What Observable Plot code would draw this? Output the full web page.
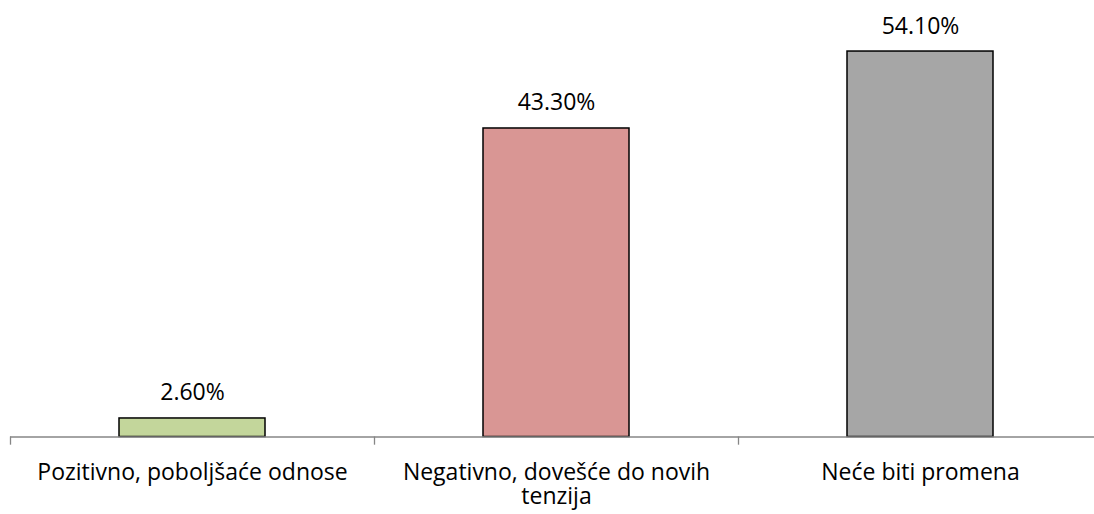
<!DOCTYPE html>
<html>
<head>
<meta charset="utf-8">
<script src="https://cdn.jsdelivr.net/npm/d3@7"></script>
<script src="https://cdn.jsdelivr.net/npm/@observablehq/plot@0.6"></script>
<style>
  html, body { margin: 0; padding: 0; background: #fff; }
</style>
</head>
<body>
<div id="chart"></div>
<script>
const categories = ["Pozitivno, poboljšaće odnose", "Negativno, dovešće do novih tenzija", "Neće biti promena"];
const tickLabels = ["Pozitivno, poboljšaće odnose", "Negativno, dovešće do novih\ntenzija", "Neće biti promena"];
const values = [2.6, 43.3, 54.1];
const colors = ["#c3d69b", "#d99694", "#a6a6a6"];

const data = categories.map((c, i) => ({category: c, value: values[i], color: colors[i], label: tickLabels[i]}));

const chart = Plot.plot({
  width: 1094,
  height: 514,
  marginTop: 9,
  marginBottom: 77.5,
  marginLeft: 10,
  marginRight: 0,
  style: {fontFamily: "'Open Sans', sans-serif", fontSize: "23px", color: "#000", background: "#fff"},
  x: {domain: categories, range: [10, 1102], paddingInner: 0.6, paddingOuter: 0.3, align: 0.5},
  y: {domain: [0, 60], axis: null},
  marks: [
    Plot.rectY(data, {x: "category", y: "value", fill: "color", stroke: "#000", strokeWidth: 1.5}),
    Plot.ruleY([0], {stroke: "#868686", strokeWidth: 1.3}),
    Plot.ruleX(categories, {x: d => d, dx: -182, y1: 0, y2: -1.15, stroke: "#868686", strokeWidth: 1.3}),
    Plot.text(data, {x: "category", y: "value", text: d => d.value.toFixed(2) + "%", dy: -18, lineAnchor: "bottom", fill: "#000", fontSize: 23}),
    Plot.axisX({tickSize: 0, tickPadding: 26, tickFormat: d => tickLabels[categories.indexOf(d)], fontSize: 23, lineHeight: 1.05, label: null, fill: "#000"})
  ]
});
document.getElementById("chart").appendChild(chart);
</script>
</body>
</html>
